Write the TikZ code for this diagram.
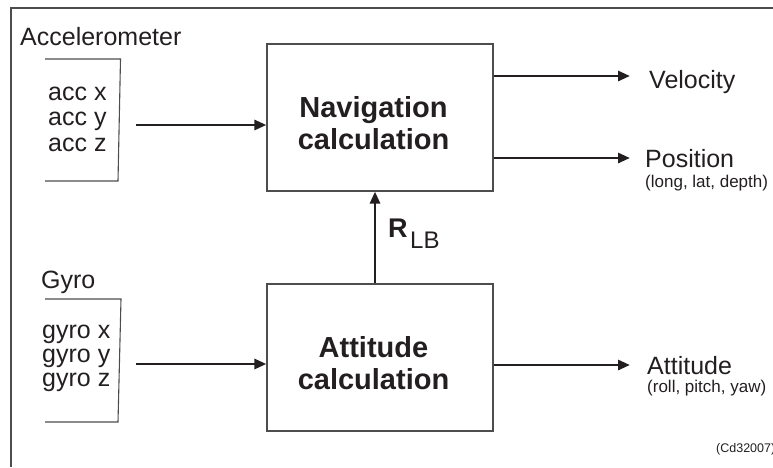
\documentclass[tikz,border=0pt]{standalone}
\usepackage{fontspec}
\setmainfont{Liberation Sans}
\usetikzlibrary{arrows.meta}
\definecolor{ink}{HTML}{231F20}
\definecolor{rule}{HTML}{4D4D4D}
\begin{document}
\begin{tikzpicture}[x=1pt,y=-1pt,
  txt/.style={inner sep=0pt, anchor=base west, text=ink, font=\fontsize{25}{25}\selectfont},
  small/.style={txt, font=\fontsize{17}{17}\selectfont},
  tiny/.style={txt, font=\fontsize{12.5}{12.5}\selectfont},
  block/.style={draw=rule, line width=1.2pt, minimum width=226pt, minimum height=147pt, inner sep=0pt},
  blocktext/.style={inner sep=0pt, align=center, text=ink, font=\fontsize{29}{32}\selectfont\bfseries},
  thin/.style={draw=rule, line width=1.1pt},
  flow/.style={draw=ink, line width=2.8pt, -{Triangle[length=12pt,width=10pt]}},
]
\useasboundingbox (0,0) rectangle (773,467);

% outer frame (top and left edges only)
\draw[thin] (11,467) -- (11,8) -- (773,8);

% sensor groups
\node[txt] (acclabel) at (20,45) {Accelerometer};
\draw[thin] (45,59) -- (120.5,59) -- (118,181) -- (45,181);
\node[txt] (accx) at (48,100) {acc x};
\node[txt] (accy) at (48,125.5) {acc y};
\node[txt] (accz) at (48,151) {acc z};

\node[txt] (gyrolabel) at (41,288) {Gyro};
\draw[thin] (45,299) -- (121,299) -- (118,422) -- (45,422);
\node[txt] (gyrox) at (42,338) {gyro x};
\node[txt] (gyroy) at (42,362) {gyro y};
\node[txt] (gyroz) at (42,386) {gyro z};

% processing blocks
\node[block] (nav) at (380,117.5) {};
\node[blocktext] (navtext) at (373.5,123.5) {Navigation\\calculation};
\node[block] (att) at (380,357.5) {};
\node[blocktext] (atttext) at (373.5,363) {Attitude\\calculation};

% inputs
\coordinate (accsrc) at (136,125);
\coordinate (gyrosrc) at (136,364);
\draw[flow] (accsrc) -- (nav.west |- accsrc);
\draw[flow] (gyrosrc) -- (att.west |- gyrosrc);

% rotation matrix from attitude to navigation
\coordinate (rx) at (375,0);
\draw[flow] (att.north -| rx) -- (nav.south -| rx);
\node[txt, font=\fontsize{27}{27}\selectfont\bfseries] (rsym) at (388,237) {R};
\node[txt, font=\fontsize{24}{24}\selectfont] (rsub) at (410,248) {LB};

% outputs
\coordinate (velend) at (630,76);
\coordinate (posend) at (630,158);
\coordinate (attend) at (630,365);
\draw[flow] (nav.east |- velend) -- (velend);
\draw[flow] (nav.east |- posend) -- (posend);
\draw[flow] (att.east |- attend) -- (attend);

\node[txt] (vel) at (649,88) {Velocity};
\node[txt] (pos) at (645,167) {Position};
\node[small] (posnote) at (645,187) {(long, lat, depth)};
\node[txt] (attout) at (647,374) {Attitude};
\node[small] (attnote) at (647,392) {(roll, pitch, yaw)};
\node[tiny] (code) at (716,452) {(Cd32007)};
\end{tikzpicture}
\end{document}
